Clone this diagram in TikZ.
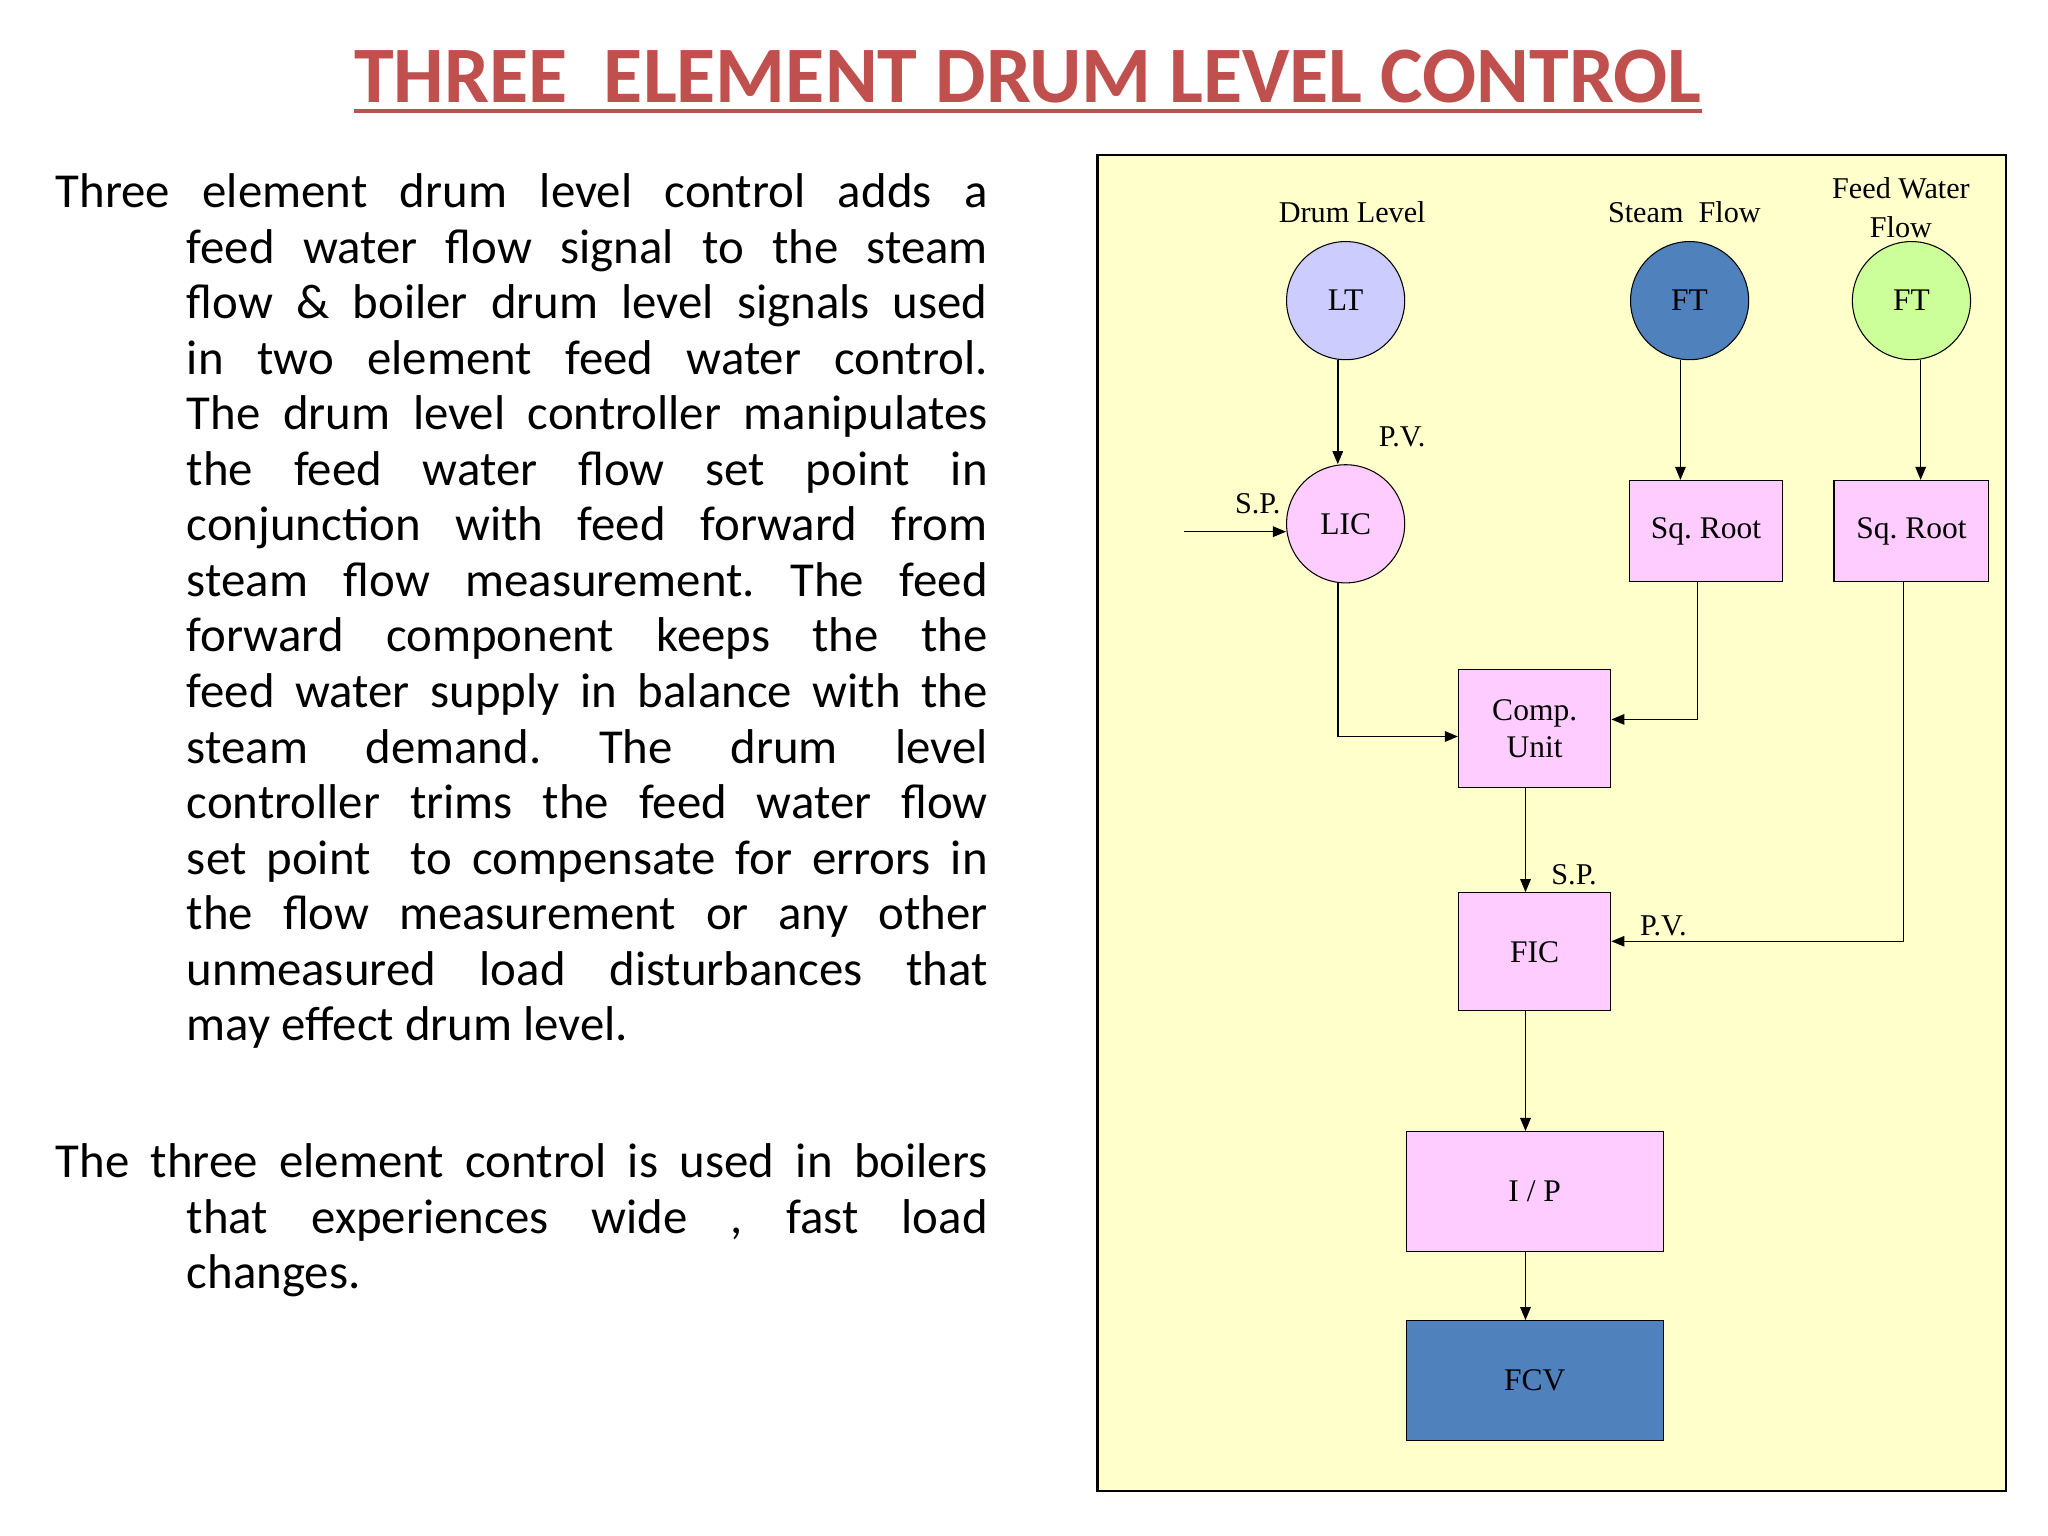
\documentclass[tikz,border=0pt]{standalone}
\usepackage{fontspec}
\setmainfont{Carlito}
\newfontfamily\serif{Liberation Serif}
\usetikzlibrary{arrows.meta}
\frenchspacing
\definecolor{ttl}{RGB}{192,80,77}
\definecolor{bgy}{RGB}{255,255,204}
\definecolor{pinkf}{RGB}{255,204,255}
\definecolor{lav}{RGB}{204,204,255}
\definecolor{blu}{RGB}{79,129,189}
\definecolor{grn}{RGB}{204,255,153}
\tikzset{
 circ/.style={circle,draw,minimum size=45pt,inner sep=0pt,font=\serif\fontsize{12}{14}\selectfont},
 blk/.style={rectangle,draw,inner sep=0pt,font=\serif\fontsize{12}{14}\selectfont,align=center},
 lbl/.style={font=\serif\fontsize{11.5}{15}\selectfont,align=center,inner sep=0pt},
 arr/.style={-{Triangle[length=5pt,width=4pt]},line width=0.6pt},
 para/.style={anchor=north west,inner sep=0pt,text width=355pt,align=justify,font=\fontsize{18.6}{21.15}\selectfont}
}
\begin{document}
\begin{tikzpicture}[x=0.5pt,y=-0.5pt]
\useasboundingbox[fill=white] (0,0) rectangle (1560,1170);
\node[font=\bfseries\fontsize{30.5}{34}\selectfont,text=ttl,inner xsep=0pt,inner ysep=0pt] (title) at (783,58) {THREE\ \ ELEMENT DRUM LEVEL CONTROL};
\draw[ttl,line width=1.5pt] ([yshift=-3pt]title.south west) -- ([yshift=-3pt]title.south east);
\node[para] (p1) at (42,132) {\hyphenpenalty=10000\hangindent=50pt\hangafter=1 Three element drum level control adds a\linebreak feed water flow signal to the steam\linebreak flow \& boiler drum level signals used\linebreak in two element feed water control.\linebreak The drum level controller manipulates\linebreak the feed water flow set point in\linebreak conjunction with feed forward from\linebreak steam flow measurement. The feed\linebreak forward component keeps the the\linebreak feed water supply in balance with the\linebreak steam demand. The drum level\linebreak controller trims the feed water flow\linebreak set point~ to compensate for errors in\linebreak the flow measurement or any other\linebreak unmeasured load disturbances that\linebreak may effect drum level.\par};
\node[para] (p2) at (42,871) {\hyphenpenalty=10000\hangindent=50pt\hangafter=1 The three element control is used in boilers\linebreak that experiences wide , fast load\linebreak changes.\par};
\draw[fill=bgy,line width=0.8pt] (836,118) rectangle (1528,1136);
\node[circ,fill=lav] (lt) at (1025,229) {LT};
\node[circ,fill=blu] (ft1) at (1287,229) {FT};
\node[circ,fill=grn] (ft2) at (1456,229) {FT};
\node[circ,fill=pinkf] (lic) at (1025,399) {LIC};
\node[blk,fill=pinkf,minimum width=58.5pt,minimum height=38.5pt] (sq1) at (1299.5,404.5) {Sq. Root};
\node[blk,fill=pinkf,minimum width=59pt,minimum height=38.5pt] (sq2) at (1456,404.5) {Sq. Root};
\node[blk,fill=pinkf,minimum width=58pt,minimum height=45pt] (comp) at (1169,555) {Comp.\\Unit};
\node[blk,fill=pinkf,minimum width=58pt,minimum height=45pt] (fic) at (1169,725) {FIC};
\node[blk,fill=pinkf,minimum width=98pt,minimum height=45.5pt] (ip) at (1169,907.5) {I / P};
\node[blk,fill=blu,minimum width=98pt,minimum height=45.5pt] (fcv) at (1169,1051.5) {FCV};
\node[lbl] (l1) at (1030,162) {Drum Level};
\node[lbl] (l2) at (1283,162) {Steam~~Flow};
\node[lbl] (l3) at (1448,158) {Feed Water\\Flow};
\node[lbl] (pv1) at (1068,333) {P.V.};
\node[lbl] (sp1) at (958,384) {S.P.};
\node[lbl] (sp2) at (1199,666) {S.P.};
\node[lbl] (pv2) at (1267,705) {P.V.};
\coordinate (spin) at (902,405);
\draw[arr] (lt.south -| 1019,0) -- (lic.north -| 1019,0);
\draw[arr] (ft1.south -| 1280,0) -- (sq1.north -| 1280,0);
\draw[arr] (ft2.south -| 1463,0) -- (sq2.north -| 1463,0);
\draw[arr] (spin) -- (lic.west |- spin);
\draw[arr] (lic.south -| 1019,0) -- (1019,561) -- (comp.west |- 0,561);
\draw[arr] (sq1.south -| 1293,0) -- (1293,548) -- (comp.east |- 0,548);
\draw[arr] (comp.south -| 1162,0) -- (fic.north -| 1162,0);
\draw[arr] (sq2.south -| 1450,0) -- (1450,717) -- (fic.east |- 0,717);
\draw[arr] (fic.south -| 1162,0) -- (ip.north -| 1162,0);
\draw[arr] (ip.south -| 1162,0) -- (fcv.north -| 1162,0);
\end{tikzpicture}
\end{document}
